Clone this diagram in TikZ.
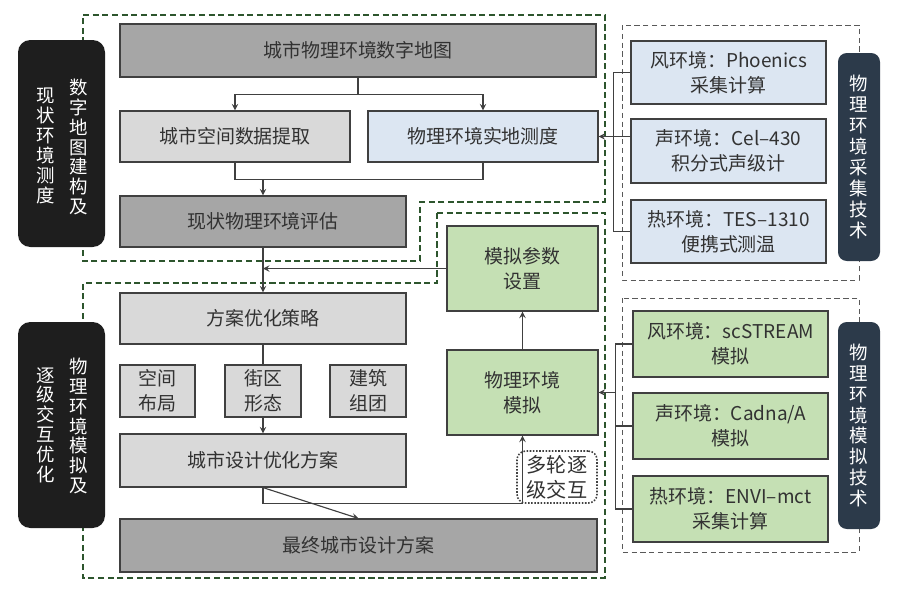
\documentclass[tikz,border=0pt]{standalone}
\usepackage{fontspec}
\setmainfont{Noto Sans CJK SC}
\usepackage{xcolor}
\definecolor{boxdark}{RGB}{166,166,166}
\definecolor{boxlight}{RGB}{217,217,217}
\definecolor{boxblue}{RGB}{220,230,242}
\definecolor{boxgreen}{RGB}{197,224,180}
\definecolor{edgegray}{RGB}{64,64,64}
\definecolor{txtgray}{RGB}{50,50,50}
\definecolor{dashgreen}{RGB}{45,85,45}
\definecolor{slate}{RGB}{44,58,74}
\definecolor{tagblack}{RGB}{30,30,30}
\newcommand{\px}{0.02cm}

\begin{document}
\begin{tikzpicture}[x=0.02cm,y=-0.02cm,>=stealth,line width=0.65pt,
  dims/.style 2 args={minimum width=#1*\px,minimum height=#2*\px},
  box/.style={draw=edgegray,text=txtgray,align=center,inner sep=0pt,font=\fontsize{10.8}{14.2}\selectfont},
  darkbox/.style={box,fill=boxdark},
  lightbox/.style={box,fill=boxlight},
  bluebox/.style={box,fill=boxblue},
  greenbox/.style={box,fill=boxgreen},
  blacktag/.style={fill=tagblack,rounded corners=7pt,inner sep=0pt},
  slatetag/.style={fill=slate,rounded corners=5pt,text=white,align=center,inner sep=0pt,font=\fontsize{10.5}{11.9}\selectfont},
  vcol/.style={text=white,align=center,inner sep=0pt,font=\fontsize{10.5}{11.3}\selectfont},
  zone/.style={draw=dashgreen,line width=0.9pt,dash pattern=on 3.5pt off 2pt},
  techzone/.style={draw=gray!70!black,line width=0.5pt,dash pattern=on 3pt off 2pt},
  note/.style={draw=edgegray,line width=0.9pt,dash pattern=on 0.9pt off 0.9pt,rounded corners=5pt,text=txtgray,align=center,inner sep=0pt,font=\fontsize{11.5}{14.2}\selectfont},
  link/.style={draw=edgegray}]
\useasboundingbox (0,0) rectangle (900,592);
%
\draw[zone] (83,15) -- (605,15) -- (605,202) -- (420,202) -- (420,261) -- (83,261) -- cycle;
\draw[zone] (437,213) -- (605,213) -- (605,578) -- (83,578) -- (83,283) -- (437,283) -- cycle;
\draw[techzone] (622,25) rectangle (859,280);
\draw[techzone] (622,298) rectangle (859,552);
%
\node[blacktag,dims={87}{207}] (tagA) at (61.5,143.5) {};
\node[vcol] (tagA1) at ([xshift=-0.31cm,yshift=-0.05cm]tagA.center) {现\\状\\环\\境\\测\\度};
\node[vcol] (tagA2) at ([xshift=0.35cm,yshift=-0.07cm]tagA.center) {数\\字\\地\\图\\建\\构\\及};
\node[blacktag,dims={87}{206}] (tagB) at (61.5,425) {};
\node[vcol] (tagB1) at ([xshift=-0.31cm]tagB.center) {逐\\级\\交\\互\\优\\化};
\node[vcol] (tagB2) at ([xshift=0.35cm,yshift=-0.02cm]tagB.center) {物\\理\\环\\境\\模\\拟\\及};
\node[slatetag,dims={42}{208}] (tagC) at (859,157) {物\\理\\环\\境\\采\\集\\技\\术};
\node[slatetag,dims={42}{207}] (tagD) at (859,425.5) {物\\理\\环\\境\\模\\拟\\技\\术};
%
\node[darkbox,dims={476}{53}] (map) at (358,50.5) {城市物理环境数字地图};
\node[lightbox,dims={230}{51}] (extract) at (235,136.5) {城市空间数据提取};
\node[bluebox,dims={230}{51}] (measure) at (483,136.5) {物理环境实地测度};
\node[darkbox,dims={286}{51}] (assess) at (263,221.5) {现状物理环境评估};
\node[lightbox,dims={286}{51}] (strategy) at (263,318.5) {方案优化策略};
\node[lightbox,dims={75}{52}] (layout) at (157.5,391) {空间\\布局};
\node[lightbox,dims={76}{52}] (block) at (263,391) {街区\\形态};
\node[lightbox,dims={76}{52}] (group) at (368,391) {建筑\\组团};
\node[lightbox,dims={286}{53}] (scheme) at (263,460.5) {城市设计优化方案};
\node[darkbox,dims={477}{53}] (final) at (358.5,545.5) {最终城市设计方案};
\node[greenbox,dims={151}{85}] (param) at (522.5,268.5) {模拟参数\\设置};
\node[greenbox,dims={151}{85}] (simu) at (522.5,392.5) {物理环境\\模拟};
\node[note,dims={80}{52}] (rounds) at (557,477) {多轮逐\\级交互};
%
\node[bluebox,dims={195}{63}] (cb1) at (728.5,72.5) {风环境：Phoenics\\采集计算};
\node[bluebox,dims={195}{64}] (cb2) at (728.5,151) {声环境：Cel–430\\积分式声级计};
\node[bluebox,dims={195}{63}] (cb3) at (728.5,231.5) {热环境：TES–1310\\便携式测温};
\node[greenbox,dims={195}{66}] (sb1) at (730.5,344) {风环境：scSTREAM\\模拟};
\node[greenbox,dims={195}{66}] (sb2) at (730.5,426) {声环境：Cadna/A\\模拟};
\node[greenbox,dims={195}{66}] (sb3) at (730.5,509) {热环境：ENVI–mct\\采集计算};
%
\draw[link] (map.south) -- ++(0,17) coordinate (m1);
\draw[link,->] (m1) -| (extract.north);
\draw[link,->] (m1) -| (measure.north);
\draw[link] (extract.south) -- ++(0,17) coordinate (j1) -| (measure.south);
\draw[link,->] (j1 -| assess.north) -- (assess.north);
\draw[link,->] (assess.south) -- (strategy.north);
\draw[link,->] (param.west) -- (param.west -| assess.south);
\draw[link] (strategy.south) -- (block.north);
\draw[link,->] (block.south) -- (scheme.north);
\draw[link,->] (scheme.south) -- (final.north);
\draw[link] (scheme.south) -- ++(0,16) coordinate (j2);
\draw[link,->] (j2) -| (simu.south);
\draw[link,->] (simu.north) -- (param.south);
%
\draw[link] (cb1.west) -- ++(-17,0) coordinate (k1) |- (cb3.west);
\draw[link,->] (cb2.west |- measure.east) -- (measure.east);
\draw[link] (sb1.west) -- ++(-17,0) coordinate (k2) |- (sb3.west);
\draw[link] (sb2.west) -- (sb2.west -| k2);
\draw[link,->] (k2 |- simu.east) -- (simu.east);
\end{tikzpicture}
\end{document}
